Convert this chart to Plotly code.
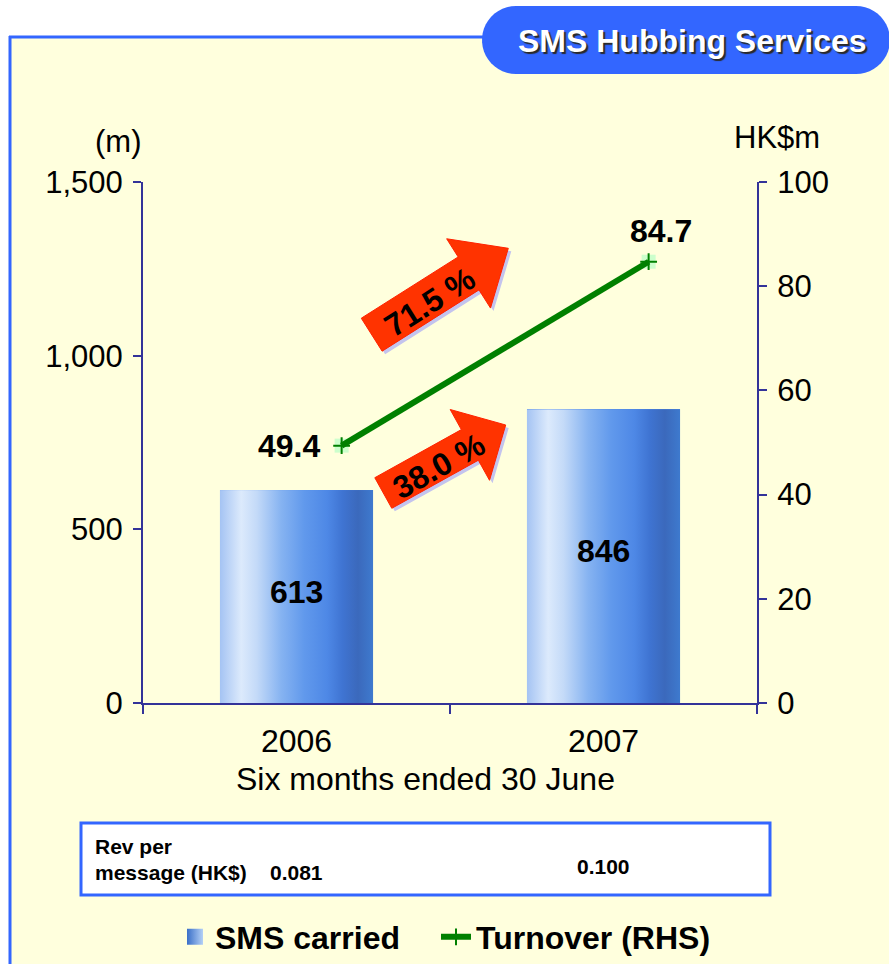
import base64
import numpy as np
import plotly.graph_objects as go

# ---------------- data ----------------
years = ["2006", "2007"]
sms_carried = [613, 846]          # millions of messages (LHS)
turnover = [49.4, 84.7]           # HK$m (RHS)
rev_per_msg = ["0.081", "0.100"]  # HK$
growth_labels = ["71.5 %", "38.0 %"]
left_ticks = [0, 500, 1000, 1500]
right_ticks = [0, 20, 40, 60, 80, 100]

# ---------------- layout geometry (style) ----------------
W, H = 889, 964
L, R, T, B = 143, 132, 182, 261
PW, PH = W - L - R, H - T - B
FONT = "Arial, 'Liberation Sans', sans-serif"
AXC = "#333399"
BLUE = "#3366FF"
BG = "#FFFFDD"
LINE_SHIFT = 0.147  # turnover line drawn offset right of bar centre


def px(x):
    return (x - L) / PW


def py(y):
    return (H - B - y) / PH


def path_from(points):
    return "M " + " L ".join(f"{px(x):.5f},{py(y):.5f}" for x, y in points) + " Z"


def rounded_pill(x0, y0, x1, y1, r, n=24):
    cy = (y0 + y1) / 2
    pts = []
    for a in np.linspace(np.pi / 2, 3 * np.pi / 2, n):
        pts.append((x0 + r + r * np.cos(a), cy - r * np.sin(a)))
    for a in np.linspace(3 * np.pi / 2, 5 * np.pi / 2, n):
        pts.append((x1 - r + r * np.cos(a), cy - r * np.sin(a)))
    return pts


def arrow_pts(tail, tip, bw, hw, hl, dx=0, dy=0):
    tail = np.array(tail, float) + (dx, dy)
    tip = np.array(tip, float) + (dx, dy)
    u = (tip - tail) / np.linalg.norm(tip - tail)
    n = np.array([u[1], -u[0]])  # points "up" on screen
    base = tip - u * hl
    return [tuple(tail + n * bw / 2), tuple(base + n * bw / 2), tuple(base + n * hw / 2),
            tuple(tip), tuple(base - n * hw / 2), tuple(base - n * bw / 2), tuple(tail - n * bw / 2)]


ARROWS = [
    dict(tail=(371.7, 334.7), tip=(508.3, 248.3), bw=39, hw=82, hl=47, text=(430, 302)),
    dict(tail=(383.3, 493.0), tip=(505.7, 425.0), bw=35, hw=81, hl=41, text=(439, 466)),
]

# gradient for bars (svg data uri)
stops = [(0.0, "#A4C3F3"), (0.14, "#DCEAFC"), (0.24, "#C4DAF8"), (0.40, "#86B3F1"),
         (0.55, "#6199EC"), (0.70, "#4E88E6"), (0.80, "#3F74D2"), (0.90, "#3B69BC"),
         (1.0, "#3E7ACE")]
svg = ('<svg xmlns="http://www.w3.org/2000/svg" width="100" height="100" viewBox="0 0 100 100" '
       'preserveAspectRatio="none"><defs><linearGradient id="g" x1="0" x2="1" y1="0" y2="0">'
       + "".join(f'<stop offset="{o}" stop-color="{c}"/>' for o, c in stops)
       + '</linearGradient></defs><rect width="100" height="100" fill="url(#g)"/></svg>')
GRAD = "data:image/svg+xml;base64," + base64.b64encode(svg.encode()).decode()

xpos = list(range(len(years)))
BAR_W = 0.5

fig = go.Figure()

fig.add_trace(go.Bar(
    x=xpos, y=sms_carried, width=BAR_W, name="SMS carried", showlegend=False,
    marker=dict(color="#4F86E0", line=dict(width=0)), yaxis="y", hoverinfo="skip",
))
# legend entry for the bars (gradient square)
fig.add_trace(go.Scatter(
    x=[None], y=[None], mode="markers", name="<b>SMS carried</b>", yaxis="y",
    legendwidth=216,
    marker=dict(symbol="square", size=16, color="#3A6FC8",
                gradient=dict(type="horizontal", color="#B4D0F6")),
))
line_x = [x + LINE_SHIFT for x in xpos]
fig.add_trace(go.Scatter(
    x=line_x, y=turnover, mode="markers", yaxis="y2", showlegend=False,
    marker=dict(symbol="square", size=14, color="#CCFFCC", line=dict(width=0)), hoverinfo="skip",
))
fig.add_trace(go.Scatter(
    x=line_x, y=turnover, mode="lines+markers", yaxis="y2", name="<b>Turnover (RHS)</b>",
    legendwidth=260,
    line=dict(color="#008000", width=6),
    marker=dict(symbol="cross-thin", size=12, line=dict(color="#008000", width=2)),
    hoverinfo="skip",
))

shapes = []
# page background & frame
shapes.append(dict(type="rect", xref="paper", yref="paper", x0=px(10), x1=px(W + 20),
                   y0=py(37), y1=py(H + 20), fillcolor=BG, line=dict(width=0), layer="below"))
shapes.append(dict(type="line", xref="paper", yref="paper", x0=px(10), x1=px(10),
                   y0=py(36), y1=py(H + 20), line=dict(color=BLUE, width=3), layer="below"))
shapes.append(dict(type="line", xref="paper", yref="paper", x0=px(9), x1=px(520),
                   y0=py(37), y1=py(37), line=dict(color=BLUE, width=3), layer="below"))
# title pill
shapes.append(dict(type="path", xref="paper", yref="paper",
                   path=path_from(rounded_pill(482, 6, 890, 74, 34)),
                   fillcolor=BLUE, line=dict(width=0), layer="above"))
# growth arrows
for a in ARROWS:
    shapes.append(dict(type="path", xref="paper", yref="paper",
                       path=path_from(arrow_pts(a["tail"], a["tip"], a["bw"], a["hw"], a["hl"], 3, 3)),
                       fillcolor="#C4C4EE", line=dict(width=0), layer="above"))
    shapes.append(dict(type="path", xref="paper", yref="paper",
                       path=path_from(arrow_pts(a["tail"], a["tip"], a["bw"], a["hw"], a["hl"])),
                       fillcolor="#FF3300", line=dict(color="#FF2200", width=1), layer="above"))
# rev-per-message table box
shapes.append(dict(type="rect", xref="paper", yref="paper", x0=px(81), x1=px(770),
                   y0=py(823), y1=py(895), fillcolor="white", line=dict(color=BLUE, width=3),
                   layer="above"))

images = []
for x, v in zip(xpos, sms_carried):
    images.append(dict(source=GRAD, xref="x", yref="y", x=x - BAR_W / 2, y=v,
                       sizex=BAR_W, sizey=v, xanchor="left", yanchor="top",
                       sizing="stretch", layer="above"))

ann = []
# title
ann.append(dict(text="<b>SMS Hubbing Services</b>", xref="paper", yref="paper",
                x=px(692), y=py(41), showarrow=False, xanchor="center", yanchor="middle",
                font=dict(size=32, color="white", family=FONT, shadow="2px 2px 1px #2a2a2a")))
# axis unit labels
ann.append(dict(text="(m)", xref="paper", yref="paper", x=px(143), y=py(141), showarrow=False,
                xanchor="right", yanchor="middle", font=dict(size=31, color="black", family=FONT)))
ann.append(dict(text="HK$m", xref="paper", yref="paper", x=px(777), y=py(137), showarrow=False,
                xanchor="center", yanchor="middle", font=dict(size=31, color="black", family=FONT)))
ann.append(dict(text="Six months ended 30 June", xref="paper", yref="paper", x=px(425), y=py(779),
                showarrow=False, xanchor="center", yanchor="middle",
                font=dict(size=32, color="black", family=FONT)))
# bar value labels
for x, v in zip(xpos, sms_carried):
    ann.append(dict(text=f"<b>{v:,}</b>", xref="x", yref="y", x=x, y=v / 2, showarrow=False,
                    xanchor="center", yanchor="middle", yshift=5,
                    font=dict(size=32, color="black", family=FONT)))
# turnover labels
ann.append(dict(text=f"<b>{turnover[0]}</b>", xref="x", yref="y2", x=line_x[0], y=turnover[0],
                showarrow=False, xanchor="right", yanchor="middle", xshift=-20,
                font=dict(size=32, color="black", family=FONT)))
ann.append(dict(text=f"<b>{turnover[1]}</b>", xref="x", yref="y2", x=line_x[1], y=turnover[1],
                showarrow=False, xanchor="center", yanchor="middle", xshift=12, yshift=31,
                font=dict(size=32, color="black", family=FONT)))
# growth labels
for a, g in zip(ARROWS, growth_labels):
    d = np.array(a["tip"]) - np.array(a["tail"])
    ang = np.degrees(np.arctan2(d[1], d[0]))
    ann.append(dict(text=f"<b>{g}</b>", xref="paper", yref="paper", x=px(a["text"][0]),
                    y=py(a["text"][1]), showarrow=False, xanchor="center", yanchor="middle",
                    textangle=ang, font=dict(size=32, color="black", family=FONT)))
# table
ann.append(dict(text="<b>Rev per</b>", xref="paper", yref="paper", x=px(93), y=py(846),
                showarrow=False, xanchor="left", yanchor="middle",
                font=dict(size=21, color="black", family=FONT)))
ann.append(dict(text="<b>message (HK$)</b>", xref="paper", yref="paper", x=px(93), y=py(872),
                showarrow=False, xanchor="left", yanchor="middle",
                font=dict(size=21, color="black", family=FONT)))
for x, r, yy in zip(xpos, rev_per_msg, [872, 866]):
    ann.append(dict(text=f"<b>{r}</b>", xref="x", yref="paper", x=x, y=py(yy), showarrow=False,
                    xanchor="center", yanchor="middle", font=dict(size=21, color="black", family=FONT)))

axis_common = dict(showgrid=False, zeroline=False, showline=True, linecolor=AXC, linewidth=2,
                   ticks="outside", ticklen=8, tickwidth=2, tickcolor=AXC,
                   tickfont=dict(size=31, color="black", family=FONT))

fig.update_layout(
    width=W, height=H, autosize=False,
    margin=dict(l=L, r=R, t=T, b=B, pad=0, autoexpand=False),
    paper_bgcolor="white", plot_bgcolor="rgba(0,0,0,0)",
    font=dict(family=FONT, color="black"),
    xaxis=dict(range=[-0.5, 1.5], tickmode="array", tickvals=xpos, ticktext=years,
               showgrid=False, zeroline=False, showline=True, linecolor=AXC, linewidth=2,
               ticks="", tickfont=dict(size=32, color="black", family=FONT), ticklabelstandoff=9,
               minor=dict(tickmode="array", tickvals=[-0.5, 0.5, 1.5], ticks="outside",
                          ticklen=9, tickwidth=2, tickcolor=AXC, showgrid=False)),
    yaxis=dict(range=[0, 1500], tickmode="array", tickvals=left_ticks, tickformat=",",
               ticklabelstandoff=4, **axis_common),
    yaxis2=dict(range=[0, 100], tickmode="array", tickvals=right_ticks, overlaying="y",
                side="right", ticklabelstandoff=4, **axis_common),
    bargap=0,
    shapes=shapes, images=images, annotations=ann,
    showlegend=True,
    legend=dict(orientation="h", x=px(175), y=py(937), xanchor="left", yanchor="middle",
                bgcolor="rgba(0,0,0,0)", font=dict(size=32, color="black", family=FONT),
                itemsizing="trace", tracegroupgap=0),
)

fig.write_html("out.html")
